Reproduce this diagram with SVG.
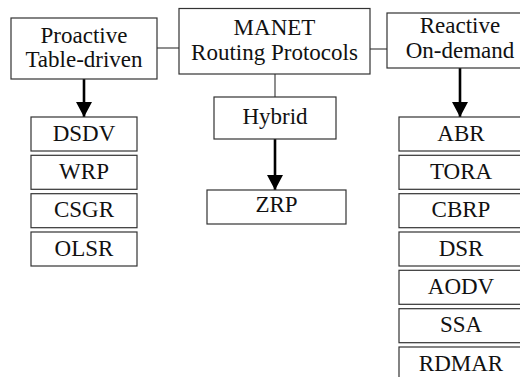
<svg xmlns="http://www.w3.org/2000/svg" width="520" height="377" viewBox="0 0 520 377" font-family="Liberation Serif, DejaVu Serif, serif">
  <style>
    .box { fill: #ffffff; stroke: #333333; stroke-width: 1.2; }
    .lbl { font-size: 23px; fill: #111111; text-anchor: middle; }
    .link { stroke: #444444; stroke-width: 1.2; fill: none; }
    .arrow { stroke: #000000; stroke-width: 2.6; fill: none; marker-end: url(#head); }
  </style>
  <defs>
    <marker id="head" markerUnits="userSpaceOnUse" markerWidth="18" markerHeight="16" refX="15" refY="8" orient="auto">
      <polygon points="0,0 15,8 0,16" fill="#000000"/>
    </marker>
  </defs>
  <rect width="520" height="377" fill="#ffffff"/>

  <!-- connectors -->
  <g id="connectors">
    <line class="link" x1="157" y1="48" x2="179" y2="48"/>
    <line class="link" x1="370" y1="49" x2="387" y2="49"/>
    <line class="link" x1="275" y1="74" x2="275" y2="97"/>
    <line class="arrow" x1="84" y1="79" x2="84" y2="117"/>
    <line class="arrow" x1="275" y1="139" x2="275" y2="190"/>
    <line class="arrow" x1="460" y1="68" x2="460" y2="117"/>
  </g>

  <!-- top row -->
  <g id="proactive">
    <rect class="box" x="11" y="18" width="146" height="61"/>
    <text class="lbl" x="84" y="43">Proactive</text>
    <text class="lbl" x="84" y="67">Table-driven</text>
  </g>
  <g id="manet">
    <rect class="box" x="179" y="8.5" width="191" height="65.5"/>
    <text class="lbl" x="274.5" y="35">MANET</text>
    <text class="lbl" x="274.5" y="60">Routing Protocols</text>
  </g>
  <g id="reactive">
    <rect class="box" x="387" y="13" width="146" height="55"/>
    <text class="lbl" x="460" y="33">Reactive</text>
    <text class="lbl" x="460" y="58">On-demand</text>
  </g>

  <!-- hybrid branch -->
  <g id="hybrid">
    <rect class="box" x="214" y="97" width="122" height="42"/>
    <text class="lbl" x="275" y="124">Hybrid</text>
  </g>
  <g id="zrp">
    <rect class="box" x="207" y="190" width="139" height="34"/>
    <text class="lbl" x="276.5" y="212">ZRP</text>
  </g>

  <!-- proactive protocols -->
  <g id="dsdv">
    <rect class="box" x="31" y="117" width="106" height="34"/>
    <text class="lbl" x="84" y="141">DSDV</text>
  </g>
  <g id="wrp">
    <rect class="box" x="31" y="155.3" width="106" height="34"/>
    <text class="lbl" x="84" y="179">WRP</text>
  </g>
  <g id="csgr">
    <rect class="box" x="31" y="193.7" width="106" height="34"/>
    <text class="lbl" x="84" y="217">CSGR</text>
  </g>
  <g id="olsr">
    <rect class="box" x="31" y="232" width="106" height="34"/>
    <text class="lbl" x="84" y="255.5">OLSR</text>
  </g>

  <!-- reactive protocols -->
  <g id="abr">
    <rect class="box" x="399" y="117" width="124" height="34"/>
    <text class="lbl" x="461" y="141">ABR</text>
  </g>
  <g id="tora">
    <rect class="box" x="399" y="155.3" width="124" height="34"/>
    <text class="lbl" x="461" y="179">TORA</text>
  </g>
  <g id="cbrp">
    <rect class="box" x="399" y="193.7" width="124" height="34"/>
    <text class="lbl" x="461" y="217">CBRP</text>
  </g>
  <g id="dsr">
    <rect class="box" x="399" y="232" width="124" height="34"/>
    <text class="lbl" x="461" y="255.5">DSR</text>
  </g>
  <g id="aodv">
    <rect class="box" x="399" y="270.3" width="124" height="34"/>
    <text class="lbl" x="461" y="294">AODV</text>
  </g>
  <g id="ssa">
    <rect class="box" x="399" y="308.7" width="124" height="34"/>
    <text class="lbl" x="461" y="332">SSA</text>
  </g>
  <g id="rdmar">
    <rect class="box" x="399" y="347" width="124" height="34"/>
    <text class="lbl" x="461" y="371">RDMAR</text>
  </g>
</svg>
